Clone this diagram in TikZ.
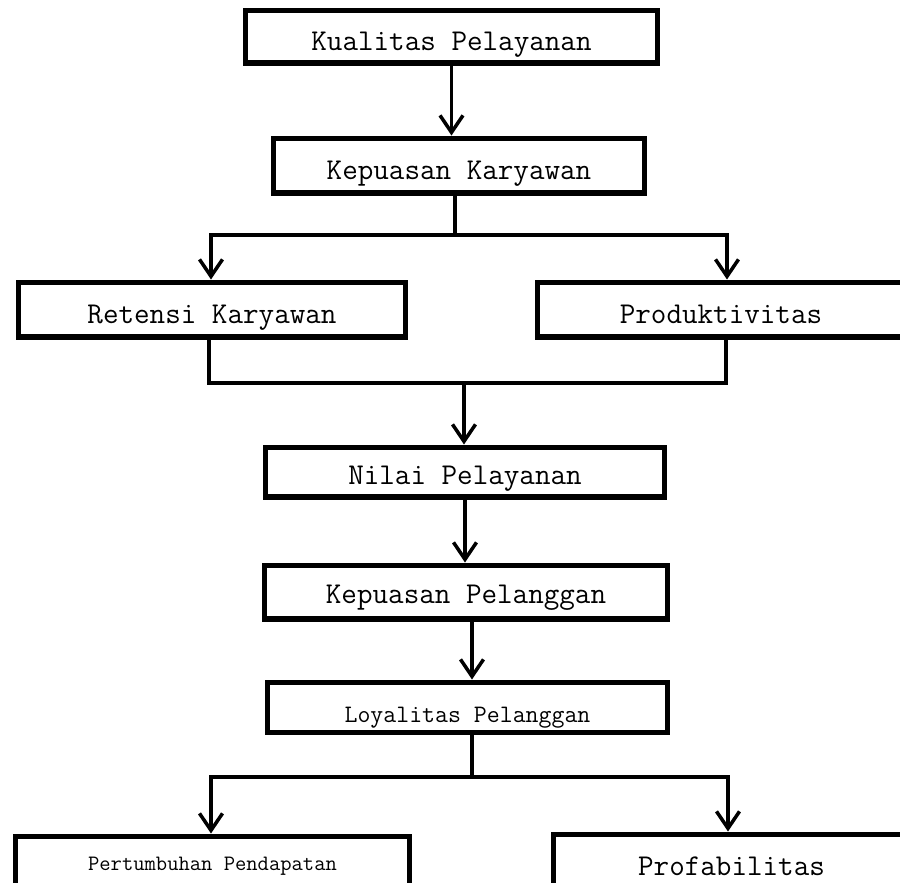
\documentclass[tikz,border=0pt]{standalone}
\usepackage{tikz}
\usetikzlibrary{arrows.meta}
\tikzset{>={Straight Barb[length=0.34cm,width=0.46cm]}}

\begin{document}
\begin{tikzpicture}[x=0.02cm, y=-0.02cm,
    block/.style={rectangle, draw=black, fill=white, line width=2.85pt, inner sep=0pt, text depth=0pt, text height=0.54cm, font=\ttfamily\fontsize{17.2pt}{20pt}\selectfont},
    link/.style={line width=2pt}]

    \useasboundingbox (0,0) rectangle (900,883);

    %Nodes
    \node[block, minimum width=8.26cm, minimum height=1.06cm](kualitas) at (451.5,36.5){Kualitas Pelayanan};
    \node[block, minimum width=7.44cm, minimum height=1.10cm](kepkar) at (459,165.5){Kepuasan Karyawan};
    \node[block, minimum width=7.76cm, minimum height=1.10cm, text height=0.56cm](retensi) at (212,309.5){Retensi Karyawan};
    \node[block, minimum width=7.36cm, minimum height=1.10cm, text height=0.56cm](produk) at (721,309.5){Produktivitas};
    \node[block, minimum width=8.00cm, minimum height=1.00cm, text height=0.48cm](nilai) at (465,472){Nilai Pelayanan};
    \node[block, minimum width=8.08cm, minimum height=1.08cm, text height=0.44cm](kepel) at (466,592){Kepuasan Pelanggan};
    \node[block, minimum width=8.02cm, minimum height=1.00cm, text height=0.60cm, font=\ttfamily\fontsize{14.3pt}{17pt}\selectfont](loyal) at (467.5,707){Loyalitas Pelanggan};
    \node[block, minimum width=7.90cm, minimum height=1.28cm, text height=0.08cm, font=\ttfamily\fontsize{12.5pt}{15pt}\selectfont](tumbuh) at (212.5,868){Pertumbuhan Pendapatan};
    \node[block, minimum width=7.14cm, minimum height=1.32cm, text height=0.32cm](profit) at (731.5,867){Profabilitas};

    %Junctions
    \coordinate (j1) at (455,235);
    \coordinate (j1l) at (211,235);
    \coordinate (j1r) at (727,235);
    \coordinate (m2) at (464,383);
    \coordinate (m2l) at (209,383);
    \coordinate (m2r) at (726,383);
    \coordinate (j3) at (472,777);
    \coordinate (j3l) at (211,777);
    \coordinate (j3r) at (728,777);

    %Lines
    \draw[link, ->] (kualitas.south) -- (kualitas.south |- kepkar.north);
    \draw[link] (j1 |- kepkar.south) -- (j1);
    \draw[link, ->] (j1) -- (j1l) -- (j1l |- retensi.north);
    \draw[link, ->] (j1) -- (j1r) -- (j1r |- produk.north);
    \draw[link] (m2l |- retensi.south) -- (m2l) -- (m2r) -- (m2r |- produk.south);
    \draw[link, ->] (m2) -- (m2 |- nilai.north);
    \draw[link, ->] (nilai.south) -- (nilai.south |- kepel.north);
    \draw[link, ->] ([xshift=0.12cm]kepel.south) -- ([xshift=0.12cm]kepel.south |- loyal.north);
    \draw[link] (j3 |- loyal.south) -- (j3);
    \draw[link, ->] (j3) -- (j3l) -- (j3l |- tumbuh.north);
    \draw[link, ->] (j3) -- (j3r) -- (j3r |- profit.north);

\end{tikzpicture}
\end{document}
